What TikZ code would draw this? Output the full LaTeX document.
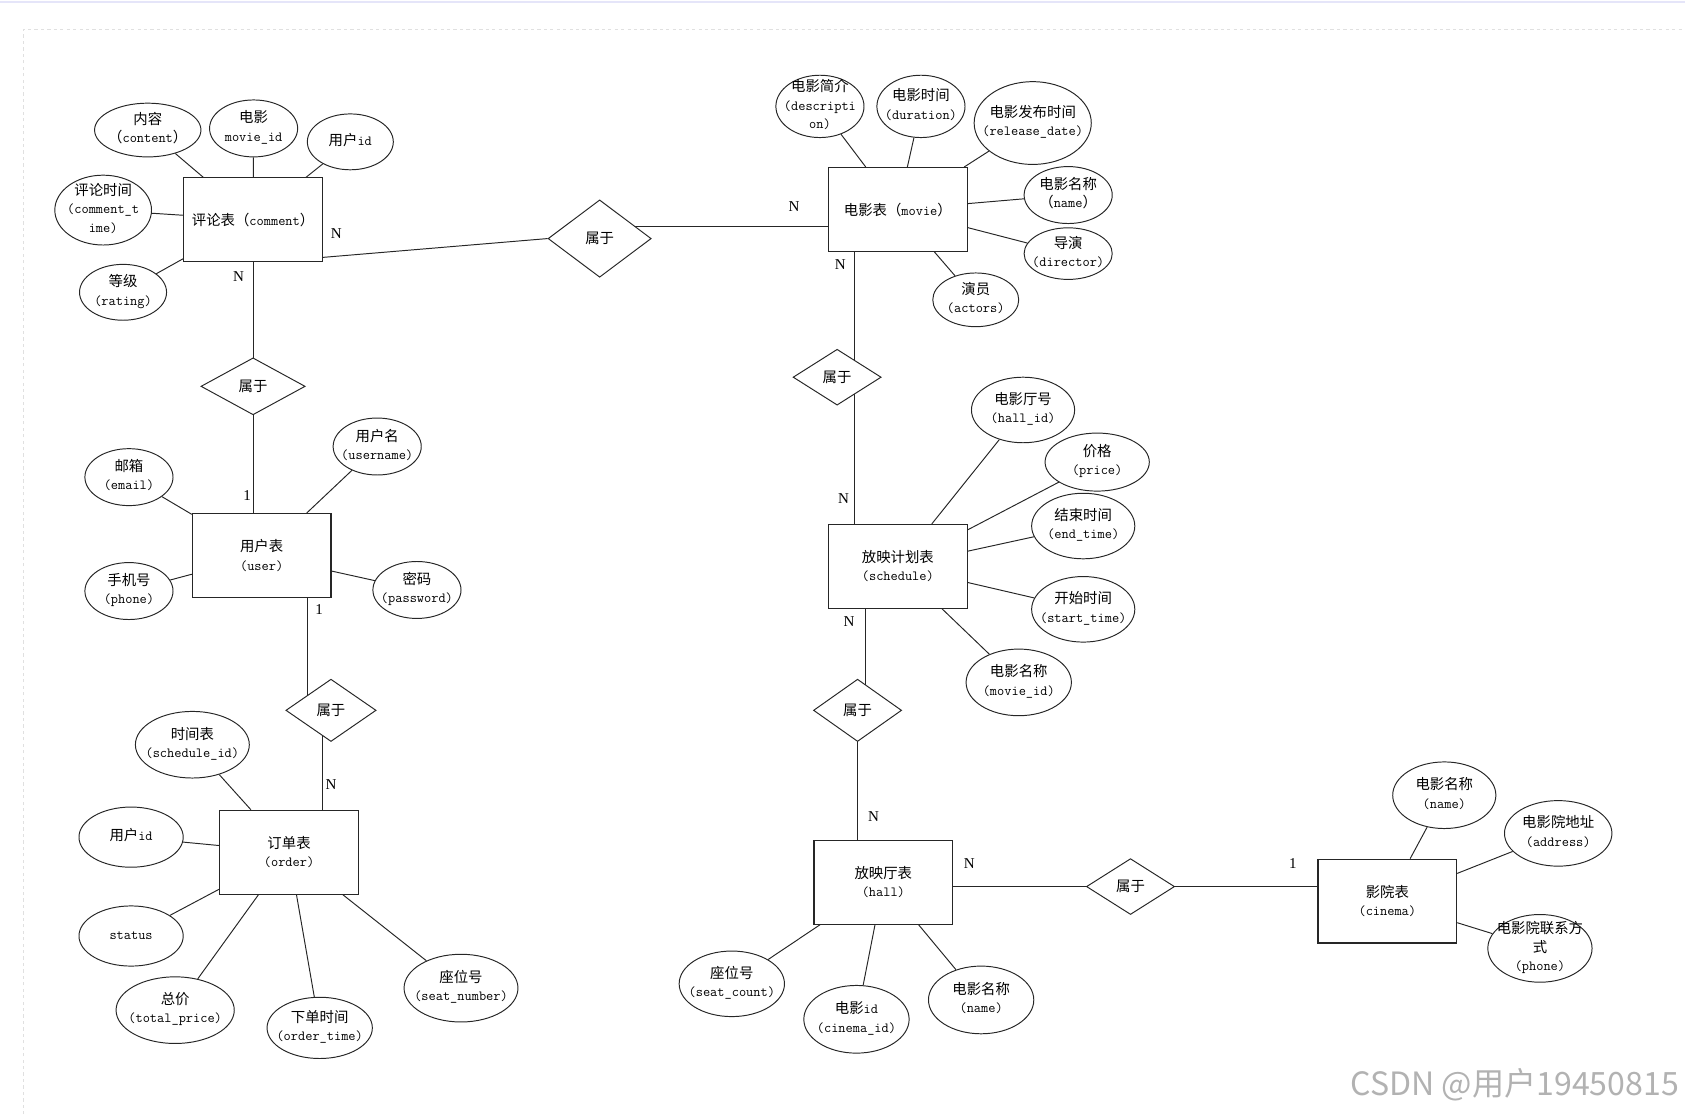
\documentclass[tikz,border=0pt]{standalone}
\usepackage{fontspec}
\newfontfamily\cjk{Noto Sans CJK SC}[Scale=1.03]
\newfontfamily\cardfont{Liberation Serif}
\usepackage{tikz}
\usetikzlibrary{shapes.geometric}
\pgfdeclarelayer{background}
\pgfsetlayers{background,main}
\newcommand{\zh}[1]{{\cjk #1}}
\newcommand{\attrtxt}[1]{\smash{\makebox[0pt]{\raisebox{-3pt}{\begin{tabular}{@{}c@{}}#1\end{tabular}}}}}
\tikzset{
  entity/.style={draw=black!85, line width=1pt, fill=white, minimum width=129pt, minimum height=78pt, align=center, inner sep=0pt},
  attr/.style={ellipse, draw=black!85, line width=0.9pt, fill=white, inner sep=0pt, minimum width=96pt, minimum height=56pt},
  rel/.style={diamond, draw=black!85, line width=0.9pt, fill=white, inner sep=0pt, minimum width=84pt, minimum height=56pt},
  card/.style={font=\cardfont\fontsize{14}{14}\selectfont, inner sep=0pt},
  link/.style={black!85, line width=0.9pt}
}

\begin{document}
\begin{tikzpicture}[x=1pt, y=-1pt, font=\ttfamily\fontsize{13}{17}\selectfont]
\useasboundingbox (0,0) rectangle (1568,1037);
\draw[black!25!blue!10!white, line width=1.5pt] (0,2) -- (1568,2);
\draw[black!12, dashed] (22,1037) -- (22,27) -- (1568,27);

\node[entity] (comment) at (235.5,204.5) {\zh{评论表（}comment\zh{）}};
\node[entity] (movie) at (835.5,195) {\zh{电影表（}movie\zh{）}};
\node[entity] (user) at (243.5,517) {\zh{用户表}\\(user)};
\node[entity] (schedule) at (835.5,527) {\zh{放映计划表}\\(schedule)};
\node[entity] (order) at (269,793) {\zh{订单表}\\(order)};
\node[entity] (hall) at (822,821) {\zh{放映厅表}\\(hall)};
\node[entity] (cinema) at (1291,838.5) {\zh{影院表}\\(cinema)};

\node[rel, minimum width=96pt, minimum height=72pt] (d1) at (558,222) {\zh{属于}};
\node[rel, minimum width=97pt, minimum height=53pt] (d2) at (235.5,359.5) {\zh{属于}};
\node[rel, minimum width=82pt, minimum height=52pt] (d3) at (779,351) {\zh{属于}};
\node[rel, minimum height=58pt] (d4) at (308,661) {\zh{属于}};
\node[rel, minimum width=82pt, minimum height=58pt] (d5) at (798,661) {\zh{属于}};
\node[rel, minimum width=82pt, minimum height=52pt] (d6) at (1052,825) {\zh{属于}};

\node[attr, minimum width=99pt, minimum height=50pt] (cContent) at (137.5,121) {\attrtxt{\zh{内容}\\\zh{（}content\zh{）}}};
\node[attr, minimum width=82pt, minimum height=53pt] (cMovie) at (236,119.5) {\attrtxt{\zh{电影}\\movie\_id}};
\node[attr, minimum width=80pt, minimum height=52pt] (cUser) at (326,132) {\attrtxt{\zh{用户}id}};
\node[attr, minimum width=90pt, minimum height=65pt] (cTime) at (96,195.5) {\attrtxt{\zh{评论时间}\\(comment\_t\\ime)}};
\node[attr, minimum width=81pt, minimum height=52pt] (cRating) at (114.5,272) {\attrtxt{\zh{等级}\\(rating)}};

\node[attr, minimum width=82pt, minimum height=58pt] (mDesc) at (763,99) {\attrtxt{\zh{电影简介}\\(descripti\\on)}};
\node[attr, minimum width=82pt, minimum height=58pt] (mDur) at (857,99) {\attrtxt{\zh{电影时间}\\(duration)}};
\node[attr, minimum width=109pt, minimum height=77pt] (mRelease) at (961,114.5) {\attrtxt{\zh{电影发布时间}\\(release\_date)}};
\node[attr, minimum width=82pt, minimum height=53pt] (mName) at (994,181.5) {\attrtxt{\zh{电影名称}\\\zh{（}name\zh{）}}};
\node[attr, minimum width=82pt, minimum height=48pt] (mDirector) at (994,236) {\attrtxt{\zh{导演}\\(director)}};
\node[attr, minimum width=80pt, minimum height=50pt] (mActors) at (908,279) {\attrtxt{\zh{演员}\\(actors)}};

\node[attr, minimum width=82pt, minimum height=53pt] (uEmail) at (120,444) {\attrtxt{\zh{邮箱}\\(email)}};
\node[attr, minimum width=82pt, minimum height=53pt] (uName) at (351,415.5) {\attrtxt{\zh{用户名}\\(username)}};
\node[attr, minimum width=82pt, minimum height=53pt] (uPhone) at (120,550) {\attrtxt{\zh{手机号}\\(phone)}};
\node[attr, minimum width=82pt, minimum height=53pt] (uPwd) at (388,549) {\attrtxt{\zh{密码}\\(password)}};

\node[attr, minimum height=61pt] (sHall) at (952,381.5) {\attrtxt{\zh{电影厅号}\\(hall\_id)}};
\node[attr, minimum width=97pt, minimum height=54pt] (sPrice) at (1021,430) {\attrtxt{\zh{价格}\\(price)}};
\node[attr, minimum height=61pt] (sEnd) at (1008,489.5) {\attrtxt{\zh{结束时间}\\(end\_time)}};
\node[attr, minimum height=61pt] (sStart) at (1008,567) {\attrtxt{\zh{开始时间}\\(start\_time)}};
\node[attr, minimum width=98pt, minimum height=62pt] (sMovie) at (948,635) {\attrtxt{\zh{电影名称}\\(movie\_id)}};

\node[attr, minimum width=106pt, minimum height=62pt] (oSched) at (179,693) {\attrtxt{\zh{时间表}\\(schedule\_id)}};
\node[attr, minimum width=97pt] (oUser) at (122,779) {\attrtxt{\zh{用户}id}};
\node[attr, minimum width=97pt] (oStatus) at (122,871) {\attrtxt{status}};
\node[attr, minimum width=110pt, minimum height=62pt] (oTotal) at (163,940) {\attrtxt{\zh{总价}\\(total\_price)}};
\node[attr, minimum width=98pt, minimum height=57pt] (oTime) at (297.5,956.5) {\attrtxt{\zh{下单时间}\\(order\_time)}};
\node[attr, minimum width=106pt, minimum height=63pt] (oSeat) at (429,919.5) {\attrtxt{\zh{座位号}\\(seat\_number)}};

\node[attr, minimum width=98pt, minimum height=61pt] (hSeat) at (681,915.5) {\attrtxt{\zh{座位号}\\(seat\_count)}};
\node[attr, minimum width=98pt, minimum height=63pt] (hCinema) at (797,948.5) {\attrtxt{\zh{电影}id\\(cinema\_id)}};
\node[attr, minimum width=98pt, minimum height=63pt] (hName) at (913,930.5) {\attrtxt{\zh{电影名称}\\(name)}};

\node[attr, minimum height=62pt] (ciName) at (1344,740) {\attrtxt{\zh{电影名称}\\(name)}};
\node[attr, minimum width=100pt, minimum height=61pt] (ciAddr) at (1450,775.5) {\attrtxt{\zh{电影院地址}\\(address)}};
\node[attr, minimum width=97pt, minimum height=63pt] (ciPhone) at (1433,882.5) {\attrtxt{\zh{电影院联系方}\\\zh{式}\\(phone)}};

\begin{pgfonlayer}{background}
\draw[link] ([yshift=-35pt]comment.east) -- (d1.west);
\draw[link] ([yshift=-16pt]movie.west) -- ([yshift=-16pt]movie.west -| d1.center);
\draw[link] (comment.south) -- (d2.center);
\draw[link] (d2.center) -- (d2.center |- user.north);
\draw[link] ([xshift=43pt]user.south) -- ([xshift=43pt]user.south |- d4.center);
\draw[link] ([xshift=31pt]order.north) -- ([xshift=31pt]order.north |- d4.center);
\draw[link] ([xshift=-40pt]movie.south) -- ([xshift=-40pt]movie.south |- d3.center);
\draw[link] ([xshift=-40pt]schedule.north) -- ([xshift=-40pt]schedule.north |- d3.center);
\draw[link] ([xshift=-30pt]schedule.south) -- ([xshift=-30pt]schedule.south |- d5.center);
\draw[link] ([xshift=-24pt]hall.north) -- ([xshift=-24pt]hall.north |- d5.center);
\draw[link] (d6.center -| hall.east) -- (d6.center -| cinema.west);
\foreach \a in {cContent,cMovie,cUser,cTime,cRating} \draw[link] (\a) -- (comment);
\foreach \a in {mDesc,mDur,mRelease,mName,mDirector,mActors} \draw[link] (\a) -- (movie);
\foreach \a in {uEmail,uName,uPhone,uPwd} \draw[link] (\a) -- (user);
\foreach \a in {sHall,sPrice,sEnd,sStart,sMovie} \draw[link] (\a) -- (schedule);
\foreach \a in {oSched,oUser,oStatus,oTotal,oTime,oSeat} \draw[link] (\a) -- (order);
\foreach \a in {hSeat,hCinema,hName} \draw[link] (\a) -- (hall);
\foreach \a in {ciName,ciAddr,ciPhone} \draw[link] (\a) -- (cinema);
\end{pgfonlayer}

\node[card] (n1) at (313,217) {N};
\node[card] (n2) at (739,192) {N};
\node[card] (n3) at (222,257) {N};
\node[card] (n4) at (230,461) {1};
\node[card] (n5) at (297,567) {1};
\node[card] (n6) at (308,730) {N};
\node[card] (n7) at (782,246) {N};
\node[card] (n8) at (785,464) {N};
\node[card] (n9) at (790,578) {N};
\node[card] (n10) at (813,760) {N};
\node[card] (n11) at (902,804) {N};
\node[card] (n12) at (1203,804) {1};

\node[anchor=east, text=black!30, font=\cjk\fontsize{29}{29}\selectfont] (mark) at (1566,1009) {CSDN @用户19450815};
\end{tikzpicture}
\end{document}
